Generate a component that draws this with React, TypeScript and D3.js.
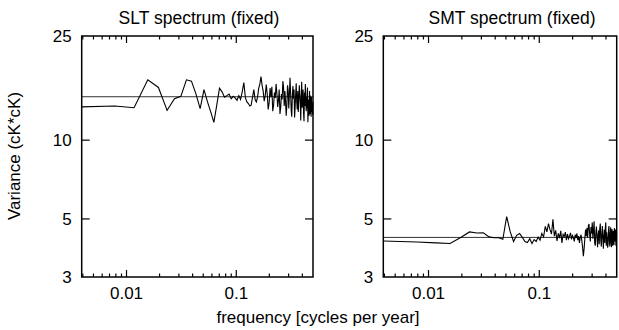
import React from "react";
import * as d3 from "d3";

// frequency index k -> f = k / 256 cycles per year
const recordLength = 256;

const sltValues = [
  13.4, 13.5, 13.3, 17.0, 15.9, 13.0, 14.4, 14.7, 17.0, 16.8,
  15.0, 13.2, 15.6, 14.0, 12.8, 11.7, 13.6, 15.8, 15.3, 14.6,
  14.8, 15.0, 14.4, 14.7, 14.5, 14.2, 14.8, 14.3, 15.3, 16.6,
  14.5, 14.0, 13.8, 13.5, 13.6, 14.6, 15.6, 14.3, 14.0, 14.6,
  15.8, 16.4, 17.5, 16.2, 15.4, 14.1, 14.8, 16.3, 15.0, 13.1,
  13.9, 15.8, 14.6, 16.0, 12.9, 13.6, 15.2, 14.5, 16.4, 15.1,
  13.4, 14.2, 15.6, 12.6, 13.3, 15.0, 14.3, 16.8, 16.0, 13.5,
  15.4, 14.0, 12.4, 13.7, 16.2, 15.5, 13.2, 14.9, 17.3, 15.2,
  13.0, 12.3, 14.8, 16.1, 14.4, 15.6, 12.2, 13.4, 15.0, 16.5,
  14.0, 13.1, 15.4, 12.8, 14.2, 16.2, 15.0, 13.9, 11.9, 14.7,
  16.7, 13.3, 14.5, 15.6, 12.7, 11.8, 15.2, 13.5, 16.4, 14.8,
  12.9, 14.6, 13.2, 15.9, 11.7, 13.9, 14.3, 12.4, 15.4, 12.6,
  14.8, 13.4, 12.3, 14.6, 12.8, 13.7, 12.5, 14.0,
];
const sltReference = 14.65;

const smtValues = [
  4.12, 4.08, 4.05, 4.03, 4.25, 4.46, 4.42, 4.43, 4.27, 4.24,
  4.24, 4.18, 5.10, 4.46, 4.10, 4.33, 4.40, 4.25, 4.10, 4.06,
  4.20, 4.03, 4.17, 4.10, 4.26, 4.15, 4.40, 4.27, 4.68, 4.46,
  4.80, 4.55, 4.38, 4.98, 4.30, 4.52, 4.12, 4.40, 4.22, 4.50,
  4.05, 4.36, 4.28, 4.45, 4.15, 4.38, 4.20, 4.30, 4.42, 4.18,
  4.32, 4.25, 4.10, 4.36, 4.22, 4.40, 4.15, 4.30, 4.05, 4.25,
  4.35, 4.12, 3.90, 3.60, 3.85, 4.20, 4.55, 4.30, 4.62, 4.25,
  4.70, 4.78, 4.35, 4.10, 4.66, 4.40, 4.85, 4.20, 4.50, 4.90,
  4.05, 3.95, 4.45, 4.68, 4.28, 3.90, 4.35, 4.52, 4.00, 4.60,
  4.80, 4.15, 3.92, 4.40, 4.70, 4.22, 3.85, 4.30, 4.55, 4.05,
  4.62, 4.85, 3.95, 4.45, 4.20, 3.88, 4.00, 4.55, 4.70, 4.12,
  3.92, 4.35, 4.65, 4.05, 3.90, 4.58, 4.28, 3.95, 4.50, 4.40,
  3.98, 4.62, 4.10, 4.35, 4.55, 3.95, 4.30, 4.42,
];
const smtReference = 4.25;

const panelTitles = ["SLT spectrum (fixed)", "SMT spectrum (fixed)"];
const yTickValues = [25, 10, 5, 3];
const xMajorTicks = [0.01, 0.1];
const xMinorTicks = [
  0.004, 0.005, 0.006, 0.007, 0.008, 0.009,
  0.02, 0.03, 0.04, 0.05, 0.06, 0.07, 0.08, 0.09,
  0.2, 0.3, 0.4,
];
const xTickLabels = ["0.01", "0.1"];
const yLabel = "Variance (cK*cK)";
const xLabel = "frequency [cycles per year]";

const FONT = "'Liberation Sans', Arial, Helvetica, sans-serif";
const FS = 17;

type PanelProps = {
  values: number[];
  reference: number;
  title: string;
  x0: number;
  x1: number;
  titleX: number;
};

const yTop = 36;
const yBottom = 277;

function Panel({ values, reference, title, x0, x1, titleX }: PanelProps) {
  const x = d3.scaleLog().domain([1 / recordLength, 0.5]).range([x0, x1]);
  const y = d3.scaleLog().domain([3, 25]).range([yBottom, yTop]);
  const data = values.map((v, i) => ({ f: (i + 1) / recordLength, v }));
  const line = d3
    .line<{ f: number; v: number }>()
    .x((d) => x(d.f))
    .y((d) => y(d.v));
  return (
    <g>
      <text
        x={titleX}
        y={24}
        textAnchor="middle"
        fontFamily={FONT}
        fontSize={17.5}
        fill="#000"
      >
        {title}
      </text>
      <line
        x1={x0}
        x2={x1}
        y1={y(reference)}
        y2={y(reference)}
        stroke="#333"
        strokeWidth={1}
      />
      <path d={line(data) || ""} fill="none" stroke="#000" strokeWidth={1.1} />
      <rect
        x={x0}
        y={yTop}
        width={x1 - x0}
        height={yBottom - yTop}
        fill="none"
        stroke="#000"
        strokeWidth={1.5}
      />
      {xMinorTicks.map((t) => (
        <g key={"mn" + t}>
          <line x1={x(t)} x2={x(t)} y1={yBottom} y2={yBottom - 3.5} stroke="#000" strokeWidth={1.2} />
          <line x1={x(t)} x2={x(t)} y1={yTop} y2={yTop + 3.5} stroke="#000" strokeWidth={1.2} />
        </g>
      ))}
      {xMajorTicks.map((t, i) => (
        <g key={"mj" + t}>
          <line x1={x(t)} x2={x(t)} y1={yBottom} y2={yBottom - 7} stroke="#000" strokeWidth={1.2} />
          <line x1={x(t)} x2={x(t)} y1={yTop} y2={yTop + 7} stroke="#000" strokeWidth={1.2} />
          <text
            x={x(t)}
            y={299}
            textAnchor="middle"
            fontFamily={FONT}
            fontSize={FS}
            fill="#000"
          >
            {xTickLabels[i]}
          </text>
        </g>
      ))}
      {yTickValues.map((t) => (
        <g key={"y" + t}>
          {t !== 25 && t !== 3 && (
            <>
              <line x1={x0} x2={x0 + 8} y1={y(t)} y2={y(t)} stroke="#000" strokeWidth={1.2} />
              <line x1={x1} x2={x1 - 8} y1={y(t)} y2={y(t)} stroke="#000" strokeWidth={1.2} />
            </>
          )}
          <text
            x={x0 - 10}
            y={y(t)}
            dy="0.35em"
            textAnchor="end"
            fontFamily={FONT}
            fontSize={FS}
            fill="#000"
          >
            {t}
          </text>
        </g>
      ))}
    </g>
  );
}

export default function App() {
  return (
    <svg
      width={619}
      height={330}
      style={{ position: "absolute", left: 0, top: 0, background: "#fff" }}
    >
      <rect x={0} y={0} width={619} height={330} fill="#fff" />
      <Panel
        values={sltValues}
        reference={sltReference}
        title={panelTitles[0]}
        x0={81.7}
        x1={313}
        titleX={199}
      />
      <Panel
        values={smtValues}
        reference={smtReference}
        title={panelTitles[1]}
        x0={383.3}
        x1={616.7}
        titleX={512}
      />
      <text
        transform="translate(20,156) rotate(-90)"
        textAnchor="middle"
        fontFamily={FONT}
        fontSize={FS}
        fill="#000"
      >
        {yLabel}
      </text>
      <text
        x={318}
        y={323}
        textAnchor="middle"
        fontFamily={FONT}
        fontSize={FS}
        fill="#000"
      >
        {xLabel}
      </text>
    </svg>
  );
}
